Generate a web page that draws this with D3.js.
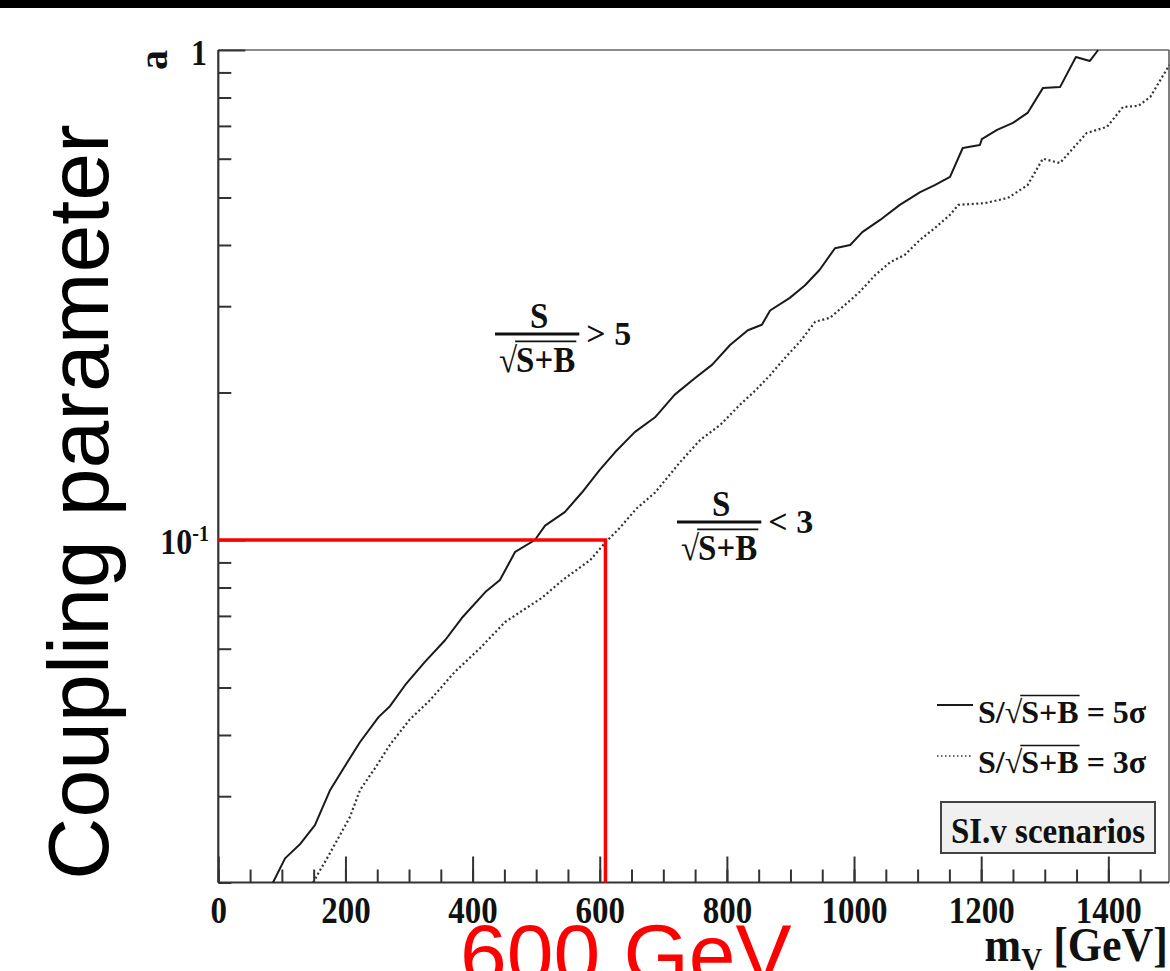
<!DOCTYPE html>
<html>
<head>
<meta charset="utf-8">
<script src="https://cdn.jsdelivr.net/npm/d3@7"></script>
<style>
  html, body { margin: 0; padding: 0; background: #fff; }
  svg { display: block; }
  .root { font-family: "Liberation Serif", "Times New Roman", serif; font-weight: bold; fill: #111; white-space: pre; }
  .axis path { display: none; }
  .axis line { stroke: #333; stroke-width: 2; }
</style>
</head>
<body>
<svg id="vis" width="1170" height="971"></svg>
<script>
// 5 sigma contour (solid)
const mass5 = [86, 105, 128, 152, 176, 200, 223, 252, 270, 294, 325, 357, 383, 420, 443, 467, 498, 514, 545, 572,
               600, 624, 655, 687, 718, 750, 777, 805, 833, 855, 868, 899, 923, 946, 970, 994, 1013, 1041, 1072, 1104,
               1127, 1151, 1171, 1198, 1201, 1225, 1250, 1273, 1297, 1324, 1349, 1371, 1384];
const coup5 = [0.0200, 0.0224, 0.0239, 0.0262, 0.0309, 0.0347, 0.0387, 0.0435, 0.0458, 0.0506, 0.0564, 0.0625, 0.0693,
               0.0783, 0.0829, 0.0946, 0.100, 0.107, 0.114, 0.125, 0.139, 0.151, 0.166, 0.178, 0.198, 0.214, 0.228,
               0.250, 0.268, 0.275, 0.294, 0.312, 0.331, 0.356, 0.394, 0.400, 0.425, 0.450, 0.483, 0.513, 0.530,
               0.551, 0.631, 0.640, 0.658, 0.687, 0.710, 0.744, 0.836, 0.840, 0.968, 0.950, 1.0];

// 3 sigma contour (dotted)
const mass3 = [149, 176, 207, 223, 247, 270, 301, 333, 372, 412, 451, 475, 509, 542, 585, 608, 632, 658, 687, 726,
               758, 790, 821, 845, 868, 891, 915, 939, 962, 986, 1009, 1033, 1057, 1080, 1104, 1127, 1151, 1164,
               1206, 1242, 1273, 1297, 1324, 1366, 1398, 1423, 1447, 1466, 1496];
const coup3 = [0.0200, 0.0230, 0.0272, 0.0309, 0.0343, 0.0382, 0.0430, 0.0471, 0.0538, 0.0602, 0.0680, 0.0713, 0.0762,
               0.0829, 0.0910, 0.0986, 0.106, 0.116, 0.125, 0.144, 0.160, 0.172, 0.189, 0.202, 0.217, 0.235, 0.254,
               0.279, 0.284, 0.302, 0.321, 0.347, 0.369, 0.382, 0.410, 0.433, 0.461, 0.483, 0.487, 0.499, 0.530,
               0.600, 0.588, 0.677, 0.697, 0.765, 0.769, 0.802, 0.932];

const massMajor = [0, 200, 400, 600, 800, 1000, 1200, 1400];
const massMinor = d3.range(0, 1501, 50);
const coupMajor = [0.1, 1];
const coupMinor = [0.02, 0.03, 0.04, 0.05, 0.06, 0.07, 0.08, 0.09, 0.2, 0.3, 0.4, 0.5, 0.6, 0.7, 0.8, 0.9];

const markMass = 609, markCoup = 0.1;

const svg = d3.select("#vis");
const x = d3.scaleLinear().domain([0, 1500]).range([218.3, 1171.9]);
const y = d3.scaleLog().domain([0.02, 1]).range([882.5, 50]);

// black strip at the top
svg.append("rect").attr("width", 1170).attr("height", 8).attr("fill", "#000");

// frame
svg.append("line").attr("x1", x(0)).attr("x2", 1169).attr("y1", y(1)).attr("y2", y(1))
  .attr("stroke", "#666").attr("stroke-width", 1.5);
svg.append("line").attr("x1", 1169).attr("x2", 1169).attr("y1", y(1)).attr("y2", y(0.02))
  .attr("stroke", "#555").attr("stroke-width", 1.5);

// x axis, ticks pointing inward
svg.append("g").attr("class", "axis")
  .attr("transform", `translate(0,${y(0.02)})`)
  .call(d3.axisBottom(x).tickValues(massMinor).tickSize(-13).tickFormat(""));
const xMaj = svg.append("g").attr("class", "axis")
  .attr("transform", `translate(0,${y(0.02)})`)
  .call(d3.axisBottom(x).tickValues(massMajor).tickSize(-26).tickPadding(0).tickFormat(d3.format("d")));
xMaj.selectAll("text").attr("class", "root").attr("fill", "#111")
  .attr("y", 0).attr("dy", null)
  .attr("transform", "translate(0,40) scale(1,1.12)")
  .style("font-size", "33px");

// y axis
svg.append("g").attr("class", "axis")
  .attr("transform", `translate(${x(0)},0)`)
  .call(d3.axisLeft(y).tickValues(coupMinor).tickSize(-13).tickFormat(""));
svg.append("g").attr("class", "axis")
  .attr("transform", `translate(${x(0)},0)`)
  .call(d3.axisLeft(y).tickValues(coupMajor).tickSize(-27).tickFormat(""));

svg.append("line").attr("x1", x(0)).attr("x2", x(0)).attr("y1", y(1)).attr("y2", y(0.02))
  .attr("stroke", "#333").attr("stroke-width", 2.2);
svg.append("line").attr("x1", x(0)).attr("x2", 1169).attr("y1", y(0.02)).attr("y2", y(0.02))
  .attr("stroke", "#333").attr("stroke-width", 2.2);

// y tick labels
svg.append("text").attr("class", "root").attr("transform", `translate(207,${y(1) + 15}) scale(1,1.12)`)
  .attr("text-anchor", "end").style("font-size", "32px").text("1");
const tenth = svg.append("text").attr("class", "root").attr("transform", `translate(209,${y(0.1) + 14}) scale(1,1.12)`)
  .attr("text-anchor", "end").style("font-size", "32px");
tenth.append("tspan").text("10");
tenth.append("tspan").attr("dy", -12).style("font-size", "20px").text("-1");

// axis titles
svg.append("text").attr("class", "root").attr("transform", `translate(167,60) rotate(-90)`)
  .attr("text-anchor", "middle").style("font-size", "40px").text("a");
const xt = svg.append("text").attr("class", "root").attr("transform", "translate(1168,961) scale(1,1.1)")
  .attr("text-anchor", "end").style("font-size", "44px");
xt.append("tspan").text("m");
xt.append("tspan").attr("dy", 8).style("font-size", "29px").text("V");
xt.append("tspan").attr("dy", -8).text(" [GeV]");

// contours
const line = d3.line().x(d => x(d[0])).y(d => y(d[1]));
svg.append("path").datum(d3.zip(mass5, coup5)).attr("d", line)
  .attr("fill", "none").attr("stroke", "#1a1a1a").attr("stroke-width", 2).attr("stroke-linejoin", "round");
svg.append("path").datum(d3.zip(mass3, coup3)).attr("d", line)
  .attr("fill", "none").attr("stroke", "#333").attr("stroke-width", 2.2).attr("stroke-dasharray", "2,2.6");

// red marker
svg.append("path")
  .attr("d", d3.line()([[x(0), y(markCoup)], [x(markMass), y(markCoup)], [x(markMass), y(0.02)]]))
  .attr("fill", "none").attr("stroke", "#ff0000").attr("stroke-width", 3.5);

// sequential text pieces, with overline where asked
function pieces(g, x0, yb, size, parts) {
  let cx = x0;
  parts.forEach(p => {
    const t = g.append("text").attr("class", "root").attr("x", cx).attr("y", yb)
      .style("font-size", (p.size || size) + "px").text(p.t);
    const w = t.node().getComputedTextLength();
    if (p.over) {
      g.append("line").attr("x1", cx - 1).attr("x2", cx + w + 1)
        .attr("y1", yb - size * 0.86).attr("y2", yb - size * 0.86)
        .attr("stroke", "#111").attr("stroke-width", 1.6);
    }
    cx += w + (p.gap || 0);
  });
  return cx - x0;
}

function fraction(cxL, barY, rel) {
  const g = svg.append("g");
  const size = 33;
  const dg = g.append("g");
  const w = pieces(dg, 0, 0, size, [{t: "\u221A", gap: -1}, {t: "S+B", over: true}]);
  dg.attr("transform", `translate(${cxL + 4},${barY + 38}) scale(1,1.08)`);
  g.append("line").attr("x1", cxL).attr("x2", cxL + w + 8).attr("y1", barY).attr("y2", barY)
    .attr("stroke", "#111").attr("stroke-width", 3);
  g.append("text").attr("class", "root").attr("transform", `translate(${cxL + (w + 8) / 2 + 2},${barY - 6}) scale(1,1.08)`)
    .attr("text-anchor", "middle").style("font-size", size + "px").text("S");
  g.append("text").attr("class", "root").attr("x", cxL + w + 15).attr("y", barY + 11)
    .style("font-size", "34px").text(rel);
}
fraction(495, 334, "> 5");
fraction(677, 522, "< 3");

// legend
const leg = svg.append("g");
leg.append("line").attr("x1", 937).attr("x2", 973).attr("y1", 705).attr("y2", 705)
  .attr("stroke", "#1a1a1a").attr("stroke-width", 2);
leg.append("line").attr("x1", 937).attr("x2", 973).attr("y1", 756).attr("y2", 756)
  .attr("stroke", "#333").attr("stroke-width", 1.6).attr("stroke-dasharray", "1.5,2.5");
pieces(leg, 978, 723, 32, [{t: "S/"}, {t: "\u221A", gap: -1}, {t: "S+B", over: true}, {t: "\u00A0= 5\u03C3"}]);
pieces(leg, 978, 773, 32, [{t: "S/"}, {t: "\u221A", gap: -1}, {t: "S+B", over: true}, {t: "\u00A0= 3\u03C3"}]);

svg.append("rect").attr("x", 941).attr("y", 802).attr("width", 214).attr("height", 51)
  .attr("fill", "#f0f0f0").attr("stroke", "#444").attr("stroke-width", 2);
svg.append("text").attr("class", "root").attr("transform", "translate(1048,843) scale(1,1.1)")
  .attr("text-anchor", "middle").style("font-size", "33px").text("SI.v scenarios");

// overlaid big annotations
svg.append("text").attr("transform", "translate(108,502) rotate(-90)")
  .attr("text-anchor", "middle").style("font-family", "'Liberation Sans', Arial, sans-serif")
  .style("font-size", "86px").attr("fill", "#000").text("Coupling parameter");
svg.append("text").attr("x", 460).attr("y", 983)
  .style("font-family", "'Liberation Sans', Arial, sans-serif")
  .style("font-size", "84px").attr("fill", "#ff0000").text("600 GeV");
</script>
</body>
</html>
